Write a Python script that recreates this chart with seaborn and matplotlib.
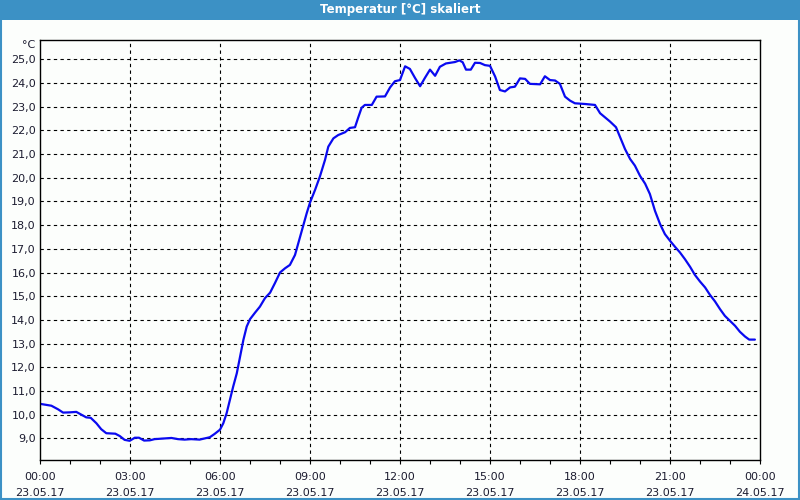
import matplotlib
matplotlib.use("Agg")
import matplotlib.pyplot as plt
import matplotlib.patches as patches
from matplotlib.ticker import MultipleLocator, FixedLocator
import seaborn as sns
import pandas as pd

# ---- data ----
hours = [0.0, 0.38, 0.6, 0.77, 0.99, 1.21, 1.38, 1.54, 1.69, 1.88, 2.04, 2.21,
         2.51, 2.66, 2.82, 2.99, 3.16, 3.3, 3.47, 3.66, 3.82, 4.16, 4.38, 4.6,
         4.82, 5.04, 5.32, 5.49, 5.66, 5.82, 6.0, 6.11, 6.22, 6.33, 6.44, 6.56,
         6.67, 6.78, 6.89, 7.0, 7.17, 7.33, 7.5, 7.67, 7.83, 8.0, 8.17, 8.33,
         8.5, 8.64, 8.78, 8.89, 9.0, 9.17, 9.33, 9.5, 9.61, 9.78, 9.94, 10.0,
         10.17, 10.33, 10.5, 10.61, 10.72, 10.83, 11.06, 11.22, 11.5, 11.67,
         11.83, 12.0, 12.17, 12.33, 12.5, 12.67, 12.83, 13.0, 13.17, 13.33,
         13.53, 13.83, 13.98, 14.09, 14.2, 14.36, 14.5, 14.67, 14.83, 15.0,
         15.17, 15.33, 15.5, 15.67, 15.83, 16.0, 16.17, 16.33, 16.67, 16.83,
         17.0, 17.17, 17.33, 17.5, 17.67, 17.83, 18.17, 18.5, 18.67, 18.83,
         19.0, 19.2, 19.33, 19.5, 19.67, 19.83, 20.0, 20.17, 20.33, 20.5,
         20.67, 20.83, 21.0, 21.17, 21.33, 21.5, 21.67, 21.83, 22.0, 22.17,
         22.33, 22.5, 22.67, 22.83, 23.0, 23.17, 23.33, 23.5, 23.64, 23.83]
temps = [10.46, 10.38, 10.23, 10.09, 10.1, 10.12, 10.0, 9.89, 9.87, 9.64, 9.39, 9.22,
         9.2, 9.1, 8.94, 8.9, 9.03, 9.03, 8.91, 8.92, 8.97, 9.0, 9.02, 8.97,
         8.95, 8.97, 8.95, 9.0, 9.05, 9.19, 9.37, 9.64, 10.06, 10.62, 11.19, 11.75,
         12.45, 13.16, 13.72, 14.03, 14.31, 14.56, 14.92, 15.15, 15.55, 16.0, 16.18, 16.32,
         16.74, 17.37, 18.0, 18.5, 18.95, 19.49, 20.05, 20.75, 21.31, 21.66, 21.8, 21.83,
         21.92, 22.1, 22.13, 22.55, 22.95, 23.07, 23.07, 23.42, 23.43, 23.81,
         24.07, 24.12, 24.7, 24.59, 24.21, 23.86, 24.21, 24.56, 24.3, 24.68,
         24.82, 24.88, 24.95, 24.87, 24.56, 24.56, 24.85, 24.84, 24.75, 24.72,
         24.27, 23.7, 23.64, 23.81, 23.84, 24.19, 24.17, 23.96, 23.94, 24.28,
         24.12, 24.1, 23.96, 23.42, 23.25, 23.14, 23.11, 23.07, 22.72, 22.55,
         22.37, 22.13, 21.73, 21.21, 20.79, 20.51, 20.08, 19.75, 19.31, 18.6,
         18.04, 17.62, 17.34, 17.08, 16.85, 16.56, 16.24, 15.9, 15.62, 15.37,
         15.06, 14.78, 14.45, 14.17, 13.96, 13.75, 13.5, 13.3, 13.17, 13.17]
x_ticks = [0, 3, 6, 9, 12, 15, 18, 21, 24]
x_labels = ["00:00\n23.05.17", "03:00\n23.05.17", "06:00\n23.05.17",
            "09:00\n23.05.17", "12:00\n23.05.17", "15:00\n23.05.17",
            "18:00\n23.05.17", "21:00\n23.05.17", "00:00\n24.05.17"]
y_ticks = list(range(9, 26))
y_labels = [f"{v},0" for v in y_ticks]
title = "Temperatur [°C] skaliert"
unit = "°C"

# ---- style ----
sns.set_style("white")
plt.rcParams["font.family"] = ["DejaVu Sans"]
bar_blue = "#3c91c5"
text_col = "#1c1c30"

fig = plt.figure(figsize=(8, 5), dpi=100, facecolor="#fcfefc")
ax = fig.add_axes([0.05, 0.08, 0.90, 0.84])
ax.set_facecolor("#fcfefc")

df = pd.DataFrame({"h": hours, "t": temps})
sns.lineplot(data=df, x="h", y="t", ax=ax, color="#0a0af0", linewidth=1.6)

ax.set_xlim(0, 24)
ax.set_ylim(8.09, 25.81)
ax.set_xlabel("")
ax.set_ylabel("")

ax.xaxis.set_major_locator(FixedLocator(x_ticks))
ax.set_xticklabels(x_labels, fontsize=8, color=text_col, linespacing=1.75)
ax.xaxis.set_minor_locator(MultipleLocator(1))
ax.yaxis.set_major_locator(FixedLocator(y_ticks))
ax.set_yticklabels(y_labels, fontsize=8, color=text_col)

ax.tick_params(axis="x", which="both", direction="out", length=3, width=0.8,
               color="black", pad=6, bottom=True)
ax.tick_params(axis="y", which="both", length=0, pad=3, left=True)

for v in x_ticks[1:-1]:
    ax.axvline(v, color="black", linestyle=(0, (3, 3)), linewidth=0.8, zorder=0)
for v in y_ticks:
    ax.axhline(v, color="black", linestyle=(0, (3, 3)), linewidth=0.8, zorder=0)

for s in ax.spines.values():
    s.set_visible(True)
    s.set_color("black")
    s.set_linewidth(1.0)

ax.text(-0.006, 0.988, unit, transform=ax.transAxes, ha="right", va="center",
        fontsize=8, color=text_col)

# title bar and frame
fig.patches.append(patches.Rectangle((0, 0.96), 1, 0.04, transform=fig.transFigure,
                                     facecolor=bar_blue, edgecolor="none", zorder=0))
fig.patches.append(patches.Rectangle((0.001, 0.002), 0.998, 0.997, transform=fig.transFigure,
                                     facecolor="none", edgecolor=bar_blue, linewidth=1.5))
fig.text(0.5, 0.98, title, ha="center", va="center", color="white",
         fontsize=8.5, fontweight="bold")

fig.savefig("out.png", dpi=100, facecolor=fig.get_facecolor())
